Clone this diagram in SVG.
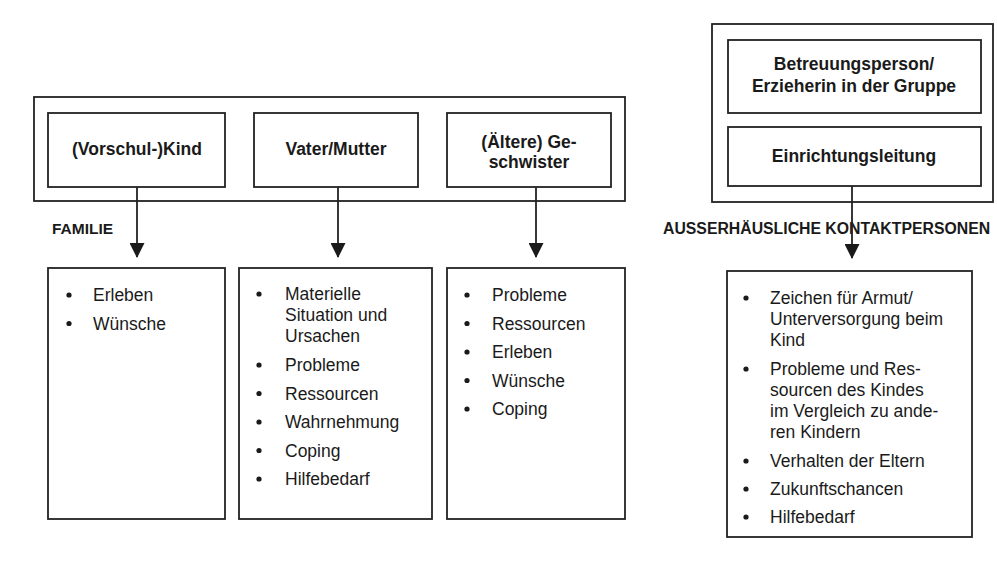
<svg xmlns="http://www.w3.org/2000/svg" width="997" height="583" viewBox="0 0 997 583">
<defs>
<style>
.box{fill:none;stroke:#222;stroke-width:1.8}
.lbl{font-family:"Liberation Sans",Arial,sans-serif;font-weight:bold;font-size:17.5px;fill:#1a1a1a;text-anchor:middle}
.cap{font-family:"Liberation Sans",Arial,sans-serif;font-weight:bold;font-size:15.5px;fill:#1a1a1a}
.li{font-family:"Liberation Sans",Arial,sans-serif;font-size:17.5px;fill:#1a1a1a}
.dot{fill:#1a1a1a}
.con{stroke:#222;stroke-width:1.8;fill:none}
</style>
<marker id="ah" markerWidth="15" markerHeight="15" refX="14" refY="7.5" orient="auto" markerUnits="userSpaceOnUse">
<path d="M0,0 L15,7.5 L0,15 Z" fill="#1a1a1a"/>
</marker>
</defs>
<rect width="997" height="583" fill="#ffffff"/>

<g id="familie-group">
<rect class="box" x="34" y="97" width="591" height="104"/>
<text class="cap" x="52" y="234">FAMILIE</text>
</g>
<g id="kind">
<rect class="box" x="48" y="113" width="177" height="74"/>
<text class="lbl" x="137" y="155">(Vorschul-)Kind</text>
</g>
<g id="eltern">
<rect class="box" x="254" y="113" width="164" height="74"/>
<text class="lbl" x="336" y="155">Vater/Mutter</text>
</g>
<g id="geschwister">
<rect class="box" x="447" y="113" width="164" height="74"/>
<text class="lbl" x="529" y="148">(Ältere) Ge-</text>
<text class="lbl" x="529" y="168">schwister</text>
</g>

<g id="ausser-group">
<rect class="box" x="712" y="24" width="281" height="178"/>
<text class="cap" x="663" y="234" style="font-size:15.8px">AUSSERHÄUSLICHE KONTAKTPERSONEN</text>
</g>
<g id="betreuung">
<rect class="box" x="728" y="40" width="253" height="73"/>
<text class="lbl" x="854" y="70">Betreuungsperson/</text>
<text class="lbl" x="854" y="92">Erzieherin in der Gruppe</text>
</g>
<g id="leitung">
<rect class="box" x="728" y="127" width="253" height="59"/>
<text class="lbl" x="854" y="162">Einrichtungsleitung</text>
</g>

<g id="list-kind">
<rect class="box" x="48" y="268" width="177" height="251"/>
<circle class="dot" cx="69" cy="295" r="2.6"/><text class="li" x="93" y="301">Erleben</text>
<circle class="dot" cx="69" cy="323.5" r="2.6"/><text class="li" x="93" y="329.5">Wünsche</text>
</g>

<g id="list-eltern">
<rect class="box" x="239" y="268" width="193" height="251"/>
<circle class="dot" cx="259" cy="294" r="2.6"/>
<text class="li" x="285" y="300">Materielle</text>
<text class="li" x="285" y="321">Situation und</text>
<text class="li" x="285" y="342">Ursachen</text>
<circle class="dot" cx="259" cy="365" r="2.6"/><text class="li" x="285" y="371">Probleme</text>
<circle class="dot" cx="259" cy="393.5" r="2.6"/><text class="li" x="285" y="399.5">Ressourcen</text>
<circle class="dot" cx="259" cy="422" r="2.6"/><text class="li" x="285" y="428">Wahrnehmung</text>
<circle class="dot" cx="259" cy="450.5" r="2.6"/><text class="li" x="285" y="456.5">Coping</text>
<circle class="dot" cx="259" cy="479" r="2.6"/><text class="li" x="285" y="485">Hilfebedarf</text>
</g>

<g id="list-geschwister">
<rect class="box" x="447" y="268" width="178" height="251"/>
<circle class="dot" cx="467" cy="295" r="2.6"/><text class="li" x="492" y="301">Probleme</text>
<circle class="dot" cx="467" cy="323.5" r="2.6"/><text class="li" x="492" y="329.5">Ressourcen</text>
<circle class="dot" cx="467" cy="352" r="2.6"/><text class="li" x="492" y="358">Erleben</text>
<circle class="dot" cx="467" cy="380.5" r="2.6"/><text class="li" x="492" y="386.5">Wünsche</text>
<circle class="dot" cx="467" cy="409" r="2.6"/><text class="li" x="492" y="415">Coping</text>
</g>

<g id="list-ausser">
<rect class="box" x="727" y="271" width="245" height="266"/>
<circle class="dot" cx="746" cy="298" r="2.6"/>
<text class="li" x="770" y="304">Zeichen für Armut/</text>
<text class="li" x="770" y="325">Unterversorgung beim</text>
<text class="li" x="770" y="346">Kind</text>
<circle class="dot" cx="746" cy="369" r="2.6"/>
<text class="li" x="770" y="375">Probleme und Res-</text>
<text class="li" x="770" y="396">sourcen des Kindes</text>
<text class="li" x="770" y="417">im Vergleich zu ande-</text>
<text class="li" x="770" y="438">ren Kindern</text>
<circle class="dot" cx="746" cy="461" r="2.6"/><text class="li" x="770" y="467">Verhalten der Eltern</text>
<circle class="dot" cx="746" cy="489" r="2.6"/><text class="li" x="770" y="495">Zukunftschancen</text>
<circle class="dot" cx="746" cy="517" r="2.6"/><text class="li" x="770" y="523">Hilfebedarf</text>
</g>

<g id="connectors">
<line class="con" x1="137" y1="187" x2="137" y2="257" marker-end="url(#ah)"/>
<line class="con" x1="338" y1="187" x2="338" y2="257" marker-end="url(#ah)"/>
<line class="con" x1="536" y1="187" x2="536" y2="257" marker-end="url(#ah)"/>
<line class="con" x1="852" y1="186" x2="852" y2="258" marker-end="url(#ah)"/>
</g>
</svg>
